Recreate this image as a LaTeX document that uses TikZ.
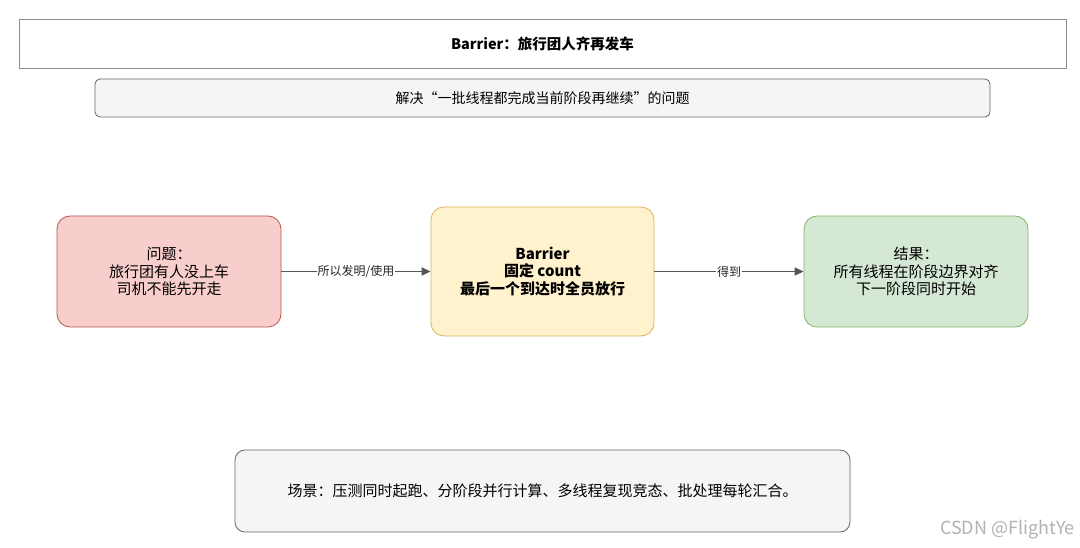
\documentclass[tikz,border=0pt]{standalone}
\usepackage{fontspec}
\setmainfont{Noto Sans CJK SC}
\usetikzlibrary{arrows.meta}
\definecolor{redfill}{HTML}{F8CECC}\definecolor{redline}{HTML}{B85450}
\definecolor{yelfill}{HTML}{FFF2CC}\definecolor{yelline}{HTML}{D6B656}
\definecolor{grnfill}{HTML}{D5E8D4}\definecolor{grnline}{HTML}{82B366}
\definecolor{grayfill}{HTML}{F5F5F5}\definecolor{grayline}{HTML}{666666}
\definecolor{arrowc}{HTML}{555555}
\tikzset{
  box/.style={draw, line width=0.8pt, rounded corners=13pt, align=center, inner sep=0pt,
    font=\fontsize{15}{17.5}\selectfont},
  flow/.style={draw=arrowc, line width=1.8pt, -{Triangle[length=9pt,width=8pt]}},
  lbl/.style={fill=white, inner sep=1pt, font=\fontsize{12}{14}\selectfont, text=black!85}
}
\begin{document}
\begin{tikzpicture}[x=1pt,y=-1pt]
\useasboundingbox[fill=white] (0,0) rectangle (1080,548);
\node[draw=black!45, line width=0.8pt, fill=white, minimum width=1047pt, minimum height=49pt,
  font=\fontsize{14.5}{16}\selectfont\bfseries] (title) at (542.5,43.5) {Barrier：旅行团人齐再发车};
\node[draw=grayline, fill=grayfill, line width=0.8pt, rounded corners=5pt, minimum width=895pt, minimum height=38pt,
  font=\fontsize{14}{16}\selectfont] (sub) at (542.5,98) {解决“一批线程都完成当前阶段再继续”的问题};
\node[box, draw=redline, fill=redfill, minimum width=224pt, minimum height=111pt] (prob) at (169,271.5)
  {问题：\\旅行团有人没上车\\司机不能先开走};
\node[box, draw=yelline, fill=yelfill, minimum width=223pt, minimum height=129pt, font=\fontsize{15}{17.5}\selectfont\bfseries] (bar) at (542.5,271.5)
  {Barrier\\固定 count\\最后一个到达时全员放行};
\node[box, draw=grnline, fill=grnfill, minimum width=224pt, minimum height=111pt] (res) at (916,271.5)
  {结果：\\所有线程在阶段边界对齐\\下一阶段同时开始};
\node[draw=grayline, fill=grayfill, line width=0.8pt, rounded corners=10pt, minimum width=615pt, minimum height=82pt,
  font=\fontsize{15}{17}\selectfont] (scene) at (542.5,491)
  {场景：压测同时起跑、分阶段并行计算、多线程复现竞态、批处理每轮汇合。};
\draw[flow] (prob.east) -- node[lbl] {所以发明/使用} (bar.west);
\draw[flow] (bar.east) -- node[lbl] {得到} (res.west);
\node[text=black!30, font=\fontsize{18}{20}\selectfont, anchor=east, inner sep=0pt] (wm) at (1075,530) {CSDN @FlightYe};
\end{tikzpicture}
\end{document}
